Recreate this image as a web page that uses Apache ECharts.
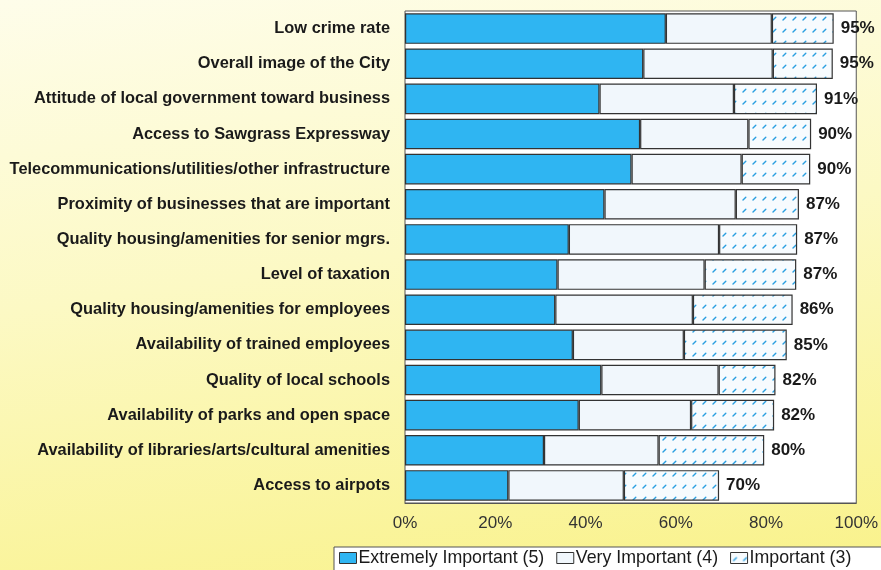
<!DOCTYPE html>
<html>
<head>
<meta charset="utf-8">
<title>Importance of location factors</title>
<script src="https://cdn.jsdelivr.net/npm/echarts@6/dist/echarts.min.js"></script>
<style>
  html, body { margin: 0; padding: 0; }
  body {
    width: 881px; height: 570px; overflow: hidden;
    background: linear-gradient(172deg, #fefdea 0%, #fcf9c4 45%, #f9f28a 100%);
  }
  #chart { width: 881px; height: 570px; }
</style>
</head>
<body>
<div id="chart"></div>
<script>
// Location factors, listed top to bottom
const categories = [
  'Low crime rate',
  'Overall image of the City',
  'Attitude of local government toward business',
  'Access to Sawgrass Expressway',
  'Telecommunications/utilities/other infrastructure',
  'Proximity of businesses that are important',
  'Quality housing/amenities for senior mgrs.',
  'Level of taxation',
  'Quality housing/amenities for employees',
  'Availability of trained employees',
  'Quality of local schools',
  'Availability of parks and open space',
  'Availability of libraries/arts/cultural amenities',
  'Access to airpots'
];

// Share of respondents (%) per rating
const extremelyImportant = [57.8, 52.8, 43.1, 52.1, 50.2, 44.2, 36.3, 33.8, 33.3, 37.2, 43.5, 38.5, 30.8, 22.9];
const veryImportant      = [23.5, 28.7, 29.8, 24.0, 24.4, 29.1, 33.3, 32.6, 30.5, 24.6, 26.0, 24.9, 25.4, 25.6];
const important          = [13.7, 13.3, 18.4, 13.9, 15.2, 14.0, 17.3, 20.3, 22.1, 22.8, 12.6, 18.4, 23.4, 21.1];

const seriesNames = ['Extremely Important (5)', 'Very Important (4)', 'Important (3)'];
const xTicks = [0, 20, 40, 60, 80, 100];

// Combined share, shown at the end of each bar
const totals = categories.map((_, i) => extremelyImportant[i] + veryImportant[i] + important[i]);

// Dotted fill for the "Important" segment: small slanted blue dashes on white
function makeDashPattern() {
  const c = document.createElement('canvas');
  c.width = 10; c.height = 12;
  const g = c.getContext('2d');
  g.fillStyle = '#f7fbfe';
  g.fillRect(0, 0, 10, 12);
  g.strokeStyle = '#2a9fe0';
  g.lineWidth = 1.4;
  g.lineCap = 'round';
  g.beginPath();
  g.moveTo(3, 8); g.lineTo(5.8, 5.2);
  g.stroke();
  return c;
}

const chart = echarts.init(document.getElementById('chart'), null, { renderer: 'canvas' });

const edge = { borderColor: '#333333', borderWidth: 1.2 };
const font = 'Liberation Sans, Arial, Helvetica, sans-serif';

chart.setOption({
  backgroundColor: 'transparent',
  animation: false,
  textStyle: { fontFamily: font },
  grid: {
    left: 405, right: 24, top: 11, bottom: 67,
    show: true, backgroundColor: '#ffffff', borderColor: '#555555', borderWidth: 1
  },
  legend: {
    data: seriesNames,
    left: 334, top: 547, width: 700,
    orient: 'horizontal',
    icon: 'rect',
    itemWidth: 17, itemHeight: 11, itemGap: 12,
    backgroundColor: '#ffffff',
    borderColor: '#555555', borderWidth: 1,
    padding: [2, 60, 20, 5],
    textStyle: { fontFamily: font, fontSize: 17.8, color: '#1a1a1a', padding: [0, 0, 0, -3] },
    itemStyle: { borderColor: '#333333', borderWidth: 1 }
  },
  xAxis: {
    type: 'value', min: 0, max: 100, interval: 20,
    axisLine: { show: true, lineStyle: { color: '#555555' } },
    axisTick: { show: false },
    splitLine: { show: false },
    axisLabel: {
      formatter: v => xTicks.includes(v) ? v + '%' : '',
      fontFamily: font, fontSize: 17, color: '#333333', margin: 12
    }
  },
  yAxis: {
    type: 'category', data: categories, inverse: true,
    axisLine: { show: false }, axisTick: { show: false },
    axisLabel: { fontFamily: font, fontSize: 16.4, fontWeight: 'bold', color: '#1a1a1a', margin: 15 }
  },
  series: [
    {
      name: seriesNames[0], type: 'bar', stack: 'all', data: extremelyImportant,
      barCategoryGap: '13%',
      itemStyle: Object.assign({ color: '#2fb5f2' }, edge)
    },
    {
      name: seriesNames[1], type: 'bar', stack: 'all', data: veryImportant,
      itemStyle: Object.assign({ color: '#f1f7fc' }, edge)
    },
    {
      name: seriesNames[2], type: 'bar', stack: 'all', data: important,
      itemStyle: Object.assign({ color: { image: makeDashPattern(), repeat: 'repeat' } }, edge),
      label: {
        show: true, position: 'right', distance: 7,
        formatter: p => Math.round(totals[p.dataIndex]) + '%',
        fontFamily: font, fontSize: 17, fontWeight: 'bold', color: '#1a1a1a'
      }
    }
  ]
});
</script>
</body>
</html>
